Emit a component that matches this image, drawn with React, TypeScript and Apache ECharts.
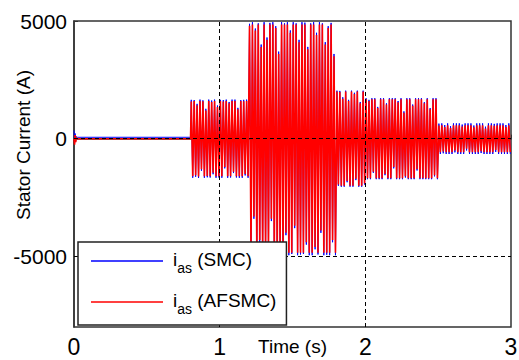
import React, { useEffect, useRef } from "react";
import * as echarts from "echarts";

// Axis ticks and labels
const xTickValues = [0, 1, 2, 3];
const yTickValues = [-5000, 0, 5000];
const gridXLines = [1, 2];
const gridYLines = [0, -5000];
const seriesNames = ["SMC", "AFSMC"];

// Start-up transient and near-zero idle current (time s, current A)
const startupTimes = [0, 0.004, 0.008, 0.012, 0.016, 0.024, 0.8];
const smcStartup = [350, -200, 220, -80, 90, 60, 60];
const afsmcStartup = [0, -250, 150, -150, 40, 0, 0];

// Oscillation peaks: one value per half-cycle (50 Hz => 0.01 s)
const halfPeriod = 0.01;
const segmentStarts = [0.8, 1.2, 1.8, 2.0, 2.5];

const afsmcSegB = [1580, -1600, 1600, -1550, 1420, -1610, 1600, -1300, 1590, -1600, 1200, -1580, 1600, -1600, 1560, -1450, 1600, -1600, 1350, -1590, 1600, -1600, 1580, -1200, 1600, -1600, 1500, -1600, 1600, -1400, 1600, -1590, 1250, -1600, 1600, -1600, 1590, -1500, 1600, -1600];
const smcSegB = [1650, -1660, 1640, -1620, 1480, -1670, 1660, -1360, 1630, -1660, 1270, -1640, 1660, -1650, 1620, -1510, 1660, -1660, 1410, -1650, 1650, -1660, 1640, -1260, 1660, -1660, 1560, -1650, 1660, -1460, 1660, -1650, 1310, -1660, 1640, -1660, 1650, -1560, 1660, -1660];

const afsmcSegC = [4800, -4850, 4850, -3300, 4600, -4850, 4850, -4300, 3900, -4850, 4850, -4850, 4200, -4700, 4850, -3400, 4850, -4850, 4700, -4850, 3600, -4500, 4850, -4850, 4850, -4000, 4850, -4850, 4500, -4850, 4850, -3700, 4850, -4850, 4100, -4850, 4850, -4850, 4850, -4400, 3800, -4850, 4850, -4850, 4850, -4600, 4400, -4850, 4850, -3900, 4850, -4850, 4000, -4850, 4700, -4850, 4850, -4300, 3500, -4850];
const smcSegC = [4880, -4920, 4950, -3400, 4680, -4950, 4900, -4400, 4000, -4930, 4950, -4900, 4300, -4780, 4920, -3500, 4950, -4950, 4780, -4900, 3700, -4600, 4950, -4920, 4900, -4100, 4950, -4950, 4600, -4900, 4950, -3800, 4900, -4950, 4200, -4920, 4950, -4900, 4930, -4500, 3900, -4950, 4900, -4950, 4950, -4700, 4500, -4920, 4950, -4000, 4900, -4950, 4100, -4930, 4780, -4950, 4920, -4400, 3600, -4950];

const afsmcSegD1 = [2000, -1950, 1980, -2000, 1700, -2000, 2000, -1800, 1600, -2000, 2000, -2000, 1900, -1700, 2000, -2000, 1500, -2000, 2000, -1900];
const smcSegD1 = [2040, -2000, 2030, -2040, 1760, -2040, 2040, -1850, 1650, -2040, 2040, -2040, 1950, -1760, 2040, -2040, 1560, -2040, 2040, -1950];

const afsmcSegD2 = [1680, -1680, 1600, -1680, 1680, -1400, 1680, -1680, 1300, -1680, 1680, -1680, 1680, -1500, 1450, -1680, 1680, -1680, 1680, -1200, 1680, -1680, 1550, -1680, 1680, -1680, 1100, -1600, 1680, -1680, 1680, -1680, 1400, -1680, 1680, -1300, 1680, -1680, 1680, -1680, 1500, -1680, 1680, -1680, 1250, -1680, 1680, -1550, 1680, -1680];
const smcSegD2 = [1720, -1720, 1650, -1720, 1720, -1450, 1720, -1720, 1350, -1720, 1720, -1720, 1720, -1550, 1500, -1720, 1720, -1720, 1720, -1260, 1720, -1720, 1600, -1720, 1720, -1720, 1160, -1650, 1720, -1720, 1720, -1720, 1450, -1720, 1720, -1350, 1720, -1720, 1720, -1720, 1550, -1720, 1720, -1720, 1300, -1720, 1720, -1600, 1720, -1720];

const afsmcSegE = [560, -570, 570, -540, 500, -570, 570, -570, 450, -570, 570, -500, 570, -570, 570, -570, 520, -570, 570, -420, 570, -570, 570, -570, 480, -570, 570, -570, 570, -530, 570, -570, 430, -570, 570, -570, 570, -570, 550, -480, 570, -570, 570, -570, 570, -570, 500, -570, 570, -570];
const smcSegE = [640, -650, 650, -620, 580, -650, 650, -650, 530, -650, 650, -580, 650, -650, 650, -650, 600, -650, 650, -500, 650, -650, 650, -650, 560, -650, 650, -650, 650, -610, 650, -650, 510, -650, 650, -650, 650, -650, 630, -560, 650, -650, 650, -650, 650, -650, 580, -650, 650, -650];

function buildSeries(startup: number[], segments: number[][]): [number, number][] {
  const pts: [number, number][] = startupTimes.map((t, i) => [t, startup[i]]);
  segments.forEach((seg, k) => {
    seg.forEach((v, i) => {
      pts.push([segmentStarts[k] + (i + 0.5) * halfPeriod, v]);
    });
  });
  return pts;
}

const FONT = "Liberation Sans, Arial, sans-serif";

export default function App() {
  const ref = useRef<HTMLDivElement>(null);
  useEffect(() => {
    if (!ref.current) return;
    const chart = echarts.init(ref.current, undefined, { renderer: "svg" });
    const smcData = buildSeries(smcStartup, [smcSegB, smcSegC, smcSegD1, smcSegD2, smcSegE]);
    const afsmcData = buildSeries(afsmcStartup, [afsmcSegB, afsmcSegC, afsmcSegD1, afsmcSegD2, afsmcSegE]);
    const legendText = (name: string) => `{i|i}{s|as}{t| (${name})}`;
    chart.setOption({
      animation: false,
      backgroundColor: "#fff",
      grid: {
        left: 74,
        right: 8,
        top: 21,
        bottom: 33,
        show: true,
        borderColor: "#333",
        borderWidth: 1.5,
        backgroundColor: "#fff",
        containLabel: false,
        outerBoundsMode: "none",
      },
      xAxis: {
        type: "value",
        min: 0,
        max: 3,
        interval: 1,
        axisLine: { show: true, lineStyle: { color: "#333", width: 1.5 } },
        axisTick: { show: true, inside: true, length: 4, lineStyle: { color: "#333" } },
        axisLabel: { fontSize: 23, color: "#000", margin: 8, fontFamily: FONT,
          customValues: xTickValues, formatter: (v: number) => String(v) },
        splitLine: { show: false },
        name: "Time (s)",
        nameLocation: "middle",
        nameGap: 10,
        nameMoveOverlap: false,
        nameTextStyle: { fontSize: 19, color: "#000", fontFamily: FONT, verticalAlign: "top" },
      },
      yAxis: {
        type: "value",
        min: -8000,
        max: 5000,
        axisLine: { show: true, lineStyle: { color: "#333", width: 1.5 } },
        axisTick: { show: true, inside: true, length: 4, lineStyle: { color: "#333" }, customValues: yTickValues },
        axisLabel: { fontSize: 21, color: "#000", margin: 7, fontFamily: FONT, customValues: yTickValues,
          formatter: (v: number) => String(v) },
        splitLine: { show: false },
      },
      legend: {
        data: seriesNames,
        orient: "vertical",
        left: 78,
        top: 242,
        z: 10,
        icon: "rect",
        itemWidth: 72,
        itemHeight: 1.5,
        itemGap: 16,
        padding: [8, 10, 9, 13],
        backgroundColor: "#fff",
        borderColor: "#222",
        borderWidth: 1.5,
        borderRadius: 0,
        formatter: legendText,
        textStyle: {
          fontFamily: FONT,
          color: "#000",
          rich: {
            i: { fontSize: 19, fontFamily: FONT, color: "#000", lineHeight: 22, verticalAlign: "top", padding: [0, 0, 0, 5] },
            s: { fontSize: 14, fontFamily: FONT, color: "#000", lineHeight: 14, verticalAlign: "top", padding: [11, 0, 0, 0] },
            t: { fontSize: 19, fontFamily: FONT, color: "#000", lineHeight: 22, verticalAlign: "top" },
          },
        },
      },
      graphic: [
        {
          type: "text",
          x: 23,
          y: 145,
          rotation: Math.PI / 2,
          style: {
            text: "Stator Current (A)",
            fontSize: 19,
            fontFamily: FONT,
            fill: "#000",
            textAlign: "center",
            textVerticalAlign: "middle",
          },
        },
      ],
      series: [
        {
          name: seriesNames[0],
          type: "line",
          data: smcData,
          symbol: "none",
          lineStyle: { color: "#0000ff", width: 1 },
          itemStyle: { color: "#0000ff" },
          z: 2,
        },
        {
          name: seriesNames[1],
          type: "line",
          data: afsmcData,
          symbol: "none",
          lineStyle: { color: "#ff0000", width: 1.6 },
          itemStyle: { color: "#ff0000" },
          z: 3,
          markLine: {
            silent: true,
            symbol: "none",
            label: { show: false },
            z: 5,
            lineStyle: { color: "#000", type: [4, 3], width: 1 },
            emphasis: { disabled: true },
            data: [
              ...gridXLines.map((v) => ({ xAxis: v })),
              ...gridYLines.map((v) => ({ yAxis: v })),
            ],
          },
        },
      ],
    });
    return () => chart.dispose();
  }, []);
  return (
    <div
      ref={ref}
      style={{ position: "absolute", left: 0, top: 0, width: 519, height: 360 }}
    />
  );
}
